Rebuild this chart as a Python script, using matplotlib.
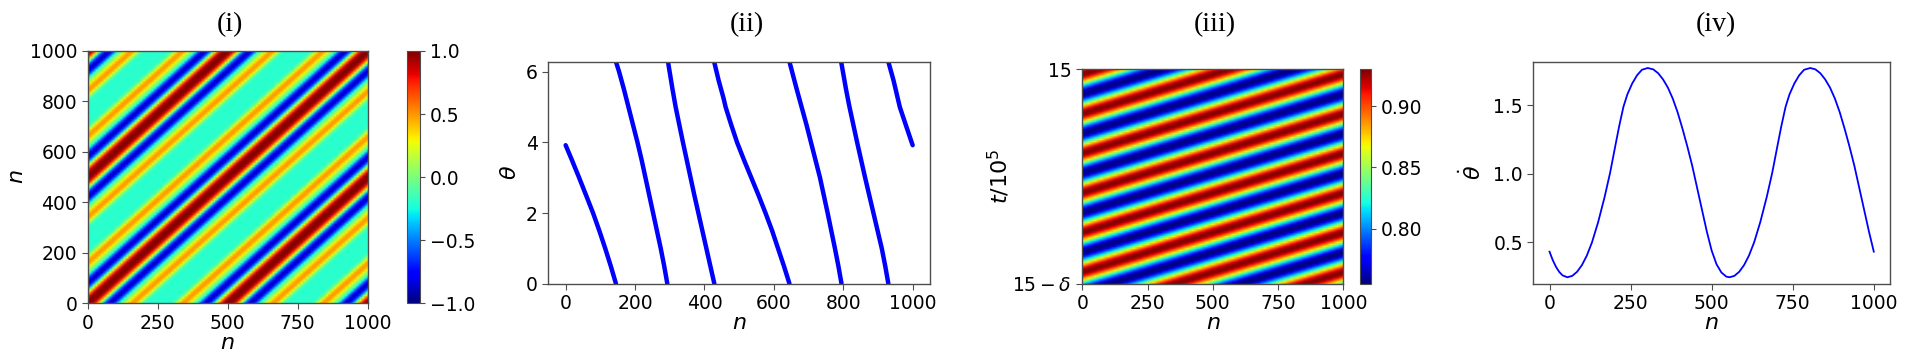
import numpy as np
import matplotlib
matplotlib.use("Agg")
import matplotlib.pyplot as plt

# ---------------- data ----------------
# (i) correlation profile f(d) vs offset d = |i - j| (read from stripe colours), d = 0..490 step 10
corr_d = list(range(0, 500, 10))
corr_f = [1.00, 0.97, 0.88, 0.65, 0.30, -0.15, -0.55, -0.80, -0.88, -0.80,
          -0.55, -0.25, -0.05, 0.10, 0.30, 0.45, 0.50, 0.45, 0.25, 0.00,
          -0.15, -0.20, -0.20, -0.20, -0.20, -0.20, -0.20, -0.20, -0.20, -0.20,
          -0.15, 0.00, 0.25, 0.45, 0.50, 0.45, 0.30, 0.10, -0.05, -0.25,
          -0.55, -0.80, -0.88, -0.80, -0.55, -0.15, 0.30, 0.65, 0.88, 0.97]

# (ii) theta(n), wrapped into [0, 2pi); segments separated by NaN
theta_n = [0, 18, 38, 59, 79, 97, 114, 130, 145, np.nan,
           145, 154, 168, 181, 194, 207, 219, 230, 241, 252, 263, 274, 284, 293, np.nan,
           295, 308, 317, 327.5, 338, 349, 360, 371, 382.5, 394, 405.5, 417, 428.5, np.nan,
           428, 441, 455, 461, 477, 494, 514, 535, 556, 576, 595, 612, 629, 645, np.nan,
           645, 666, 680, 694, 707, 720, 733, 744, 755, 765.5, 776, 786, 795, np.nan,
           794, 808, 818, 829, 840, 851.5, 863, 875, 887, 899, 911, 921, 930, np.nan,
           930, 945, 957, 963, 980, 1000]
theta_v = [3.92, 3.5, 3.02, 2.5, 2.0, 1.5, 1.0, 0.5, 0.0, np.nan,
           6.28, 6.0, 5.5, 5.0, 4.5, 4.0, 3.5, 3.0, 2.5, 2.0, 1.5, 1.0, 0.5, 0.0, np.nan,
           6.28, 5.5, 5.0, 4.5, 4.0, 3.5, 3.0, 2.5, 2.0, 1.5, 1.0, 0.5, 0.0, np.nan,
           6.28, 5.75, 5.25, 5.0, 4.5, 4.0, 3.5, 3.0, 2.5, 2.0, 1.5, 1.0, 0.5, 0.0, np.nan,
           6.28, 5.5, 5.0, 4.5, 4.0, 3.5, 3.0, 2.5, 2.0, 1.5, 1.0, 0.5, 0.0, np.nan,
           6.28, 5.5, 5.0, 4.5, 4.0, 3.5, 3.0, 2.5, 2.0, 1.5, 1.0, 0.5, 0.0, np.nan,
           6.28, 5.75, 5.25, 5.0, 4.5, 3.92]

# (iii) order-parameter profile over one period (20 phase samples), travelling wave
r_profile = [0.930, 0.926, 0.913, 0.894, 0.870, 0.843, 0.816, 0.792, 0.772, 0.759,
             0.755, 0.759, 0.772, 0.792, 0.816, 0.843, 0.870, 0.894, 0.913, 0.926]
r_space_period = 500.0      # n
r_time_periods = 5.43       # periods across the time window
r_phase_offset = 6          # samples

# (iv) theta-dot vs n
dot_n = [0, 10, 20, 30, 40, 55, 70, 85, 100, 115, 131, 150, 170, 187, 205, 215, 228,
         240, 255, 270, 285, 303, 320, 335, 350, 365, 380, 395, 410, 425, 440, 455,
         470, 485, 500, 515, 530, 545,
         555, 570, 585, 600, 615, 631, 650, 670, 687, 705, 715, 728, 740, 755, 770,
         785, 804, 820, 835, 850, 865, 880, 895, 910, 925, 940, 955, 970, 985, 1000]
dot_v = [0.432, 0.37, 0.321, 0.284, 0.259, 0.245, 0.255, 0.285, 0.334, 0.403, 0.50,
         0.648, 0.832, 1.01, 1.23, 1.35, 1.49, 1.58, 1.66, 1.72, 1.76, 1.773, 1.763,
         1.735, 1.69, 1.63, 1.55, 1.45, 1.33, 1.20, 1.06, 0.90, 0.74, 0.58, 0.44,
         0.34, 0.28, 0.25,
         0.245, 0.255, 0.285, 0.334, 0.403, 0.50, 0.648, 0.832, 1.01, 1.23, 1.35, 1.49,
         1.58, 1.66, 1.72, 1.76, 1.773, 1.763, 1.735, 1.69, 1.63, 1.55, 1.45, 1.33,
         1.20, 1.06, 0.90, 0.74, 0.58, 0.432]

# ---------------- figure ----------------
W, H = 1920, 360
fig = plt.figure(figsize=(W / 100, H / 100), dpi=100)
TICK = 13.5
LAB = 16
plt.rcParams['mathtext.fontset'] = 'dejavusans'


def ax_px(x0, x1, y0, y1):
    return fig.add_axes([x0 / W, 1 - y1 / H, (x1 - x0) / W, (y1 - y0) / H])


def style(ax):
    for s in ax.spines.values():
        s.set_color('0.3')
        s.set_linewidth(1.0)
    ax.tick_params(labelsize=TICK, color='0.3', length=4)


title_font = dict(family=['Liberation Serif', 'DejaVu Serif'], size=20)

# ---- (i)
ax1 = ax_px(87.7, 367.7, 51, 303.3)
cax1 = ax_px(406.7, 420, 51, 303.3)
fd = np.array(corr_f)
nstep = 10
idx = np.arange(0, 1001, nstep) // nstep
period = len(corr_f)
dmat = np.abs(idx[:, None] - idx[None, :]) % period
mat = fd[dmat]
im1 = ax1.imshow(mat, origin='lower', cmap='jet', vmin=-1, vmax=1,
                 extent=[-5, 1005, -5, 1005], aspect='auto', interpolation='bilinear')
ax1.set_xlim(0, 1000)
ax1.set_ylim(0, 1000)
ax1.set_xticks([0, 250, 500, 750, 1000])
ax1.set_yticks([0, 200, 400, 600, 800, 1000])
ax1.set_xlabel('$n$', fontsize=LAB, labelpad=0)
ax1.set_ylabel('$n$', fontsize=LAB, labelpad=2)
style(ax1)
cb1 = fig.colorbar(im1, cax=cax1, ticks=[-1, -0.5, 0, 0.5, 1])
cb1.ax.tick_params(labelsize=TICK, color='0.3')
cb1.ax.set_yticklabels(['\u22121.0', '\u22120.5', '0.0', '0.5', '1.0'])
cb1.outline.set_edgecolor('0.3')

# ---- (ii)
ax2 = ax_px(548.3, 930, 61.7, 283.7)
ax2.plot(theta_n, theta_v, color='blue', lw=3.2, solid_capstyle='round',
         solid_joinstyle='round')
ax2.set_xlim(-50, 1050)
ax2.set_ylim(0, 2 * np.pi)
ax2.set_xticks([0, 200, 400, 600, 800, 1000])
ax2.set_yticks([0, 2, 4, 6])
ax2.set_xlabel('$n$', fontsize=LAB, labelpad=0)
ax2.set_ylabel(r'$\theta$', fontsize=LAB, labelpad=4)
style(ax2)

# ---- (iii)
ax3 = ax_px(1082.3, 1343.3, 69.3, 283.7)
cax3 = ax_px(1360, 1371, 69.3, 283.7)
K = len(r_profile)
dn = r_space_period / K
ncols = int(round(1000 / dn)) + 1
dt = 1.0 / (r_time_periods * K)
nrows = int(np.ceil(1.0 / dt)) + 1
cc = np.arange(ncols)
rr = np.arange(nrows)
prof = np.array(r_profile)
field = prof[(cc[None, :] - rr[:, None] + r_phase_offset) % K]
im3 = ax3.imshow(field, origin='lower', cmap='jet',
                 vmin=min(r_profile), vmax=max(r_profile),
                 extent=[-dn / 2, (ncols - 0.5) * dn, -dt / 2, (nrows - 0.5) * dt],
                 aspect='auto', interpolation='bilinear')
ax3.set_xlim(0, 1000)
ax3.set_ylim(0, 1)
ax3.set_xticks([0, 250, 500, 750, 1000])
ax3.set_yticks([0, 1])
ax3.set_yticklabels([r'$15-\delta$', '15'])
ax3.set_xlabel('$n$', fontsize=LAB, labelpad=0)
ax3.set_ylabel('$t/10^5$', fontsize=LAB, labelpad=0)
style(ax3)
cb3 = fig.colorbar(im3, cax=cax3, ticks=[0.80, 0.85, 0.90])
cb3.ax.set_yticklabels(['0.80', '0.85', '0.90'])
cb3.ax.tick_params(labelsize=TICK, color='0.3')
cb3.outline.set_edgecolor('0.3')

# ---- (iv)
ax4 = ax_px(1533.3, 1890, 61.7, 283.7)
ax4.plot(dot_n, dot_v, color='blue', lw=1.3)
ax4.set_xlim(-50, 1050)
ax4.set_ylim(0.198, 1.819)
ax4.set_xticks([0, 250, 500, 750, 1000])
ax4.set_yticks([0.5, 1.0, 1.5])
ax4.set_xlabel('$n$', fontsize=LAB, labelpad=0)
ax4.set_ylabel(r'$\dot{\theta}$', fontsize=LAB, labelpad=6)
style(ax4)

for xc, t in [(230, '(i)'), (746.7, '(ii)'), (1215, '(iii)'), (1716, '(iv)')]:
    fig.text(xc / W, 1 - 25 / H, t, ha='center', va='center', **title_font)

fig.savefig('out.png', dpi=100)
